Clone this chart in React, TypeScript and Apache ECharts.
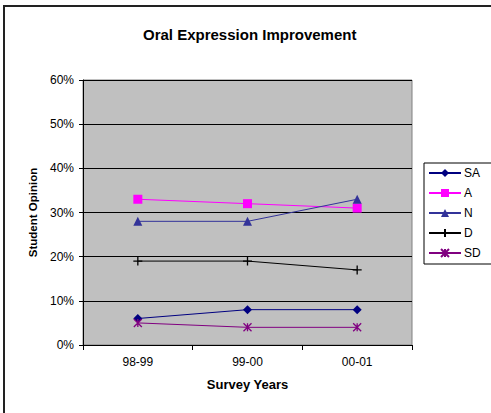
import React, { useEffect, useRef } from "react";
import * as echarts from "echarts";

const categories = ["98-99", "99-00", "00-01"];
const seriesNames = ["SA", "A", "N", "D", "SD"];
const saValues = [6, 8, 8];
const aValues = [33, 32, 31];
const nValues = [28, 28, 33];
const dValues = [19, 19, 17];
const sdValues = [5, 4, 4];
const yTicks = [0, 10, 20, 30, 40, 50, 60];

const FONT = "'Liberation Sans', Arial, sans-serif";

export default function App() {
  const ref = useRef<HTMLDivElement>(null);
  useEffect(() => {
    document.body.style.margin = "0";
    const chart = echarts.init(ref.current!, null, { renderer: "svg" });
    const plusPath = "path://M0,5L10,5M5,0L5,10";
    const starPath = "path://M0,0L10,10M10,0L0,10M5,0L5,10";
    const mk = (name: string, data: number[], color: string, symbol: string, size: number, stroke = false) => ({
      name,
      type: "line",
      data,
      symbol,
      symbolSize: size,
      lineStyle: { color, width: 1 },
      itemStyle: stroke
        ? { color, borderColor: color, borderWidth: 1.3 }
        : { color, borderWidth: 0 },
      emphasis: { disabled: true },
    });
    chart.setOption({
      animation: false,
      textStyle: { fontFamily: FONT },
      title: {
        text: "Oral Expression Improvement",
        left: 143,
        top: 27,
        padding: 0,
        textStyle: { fontFamily: FONT, fontSize: 15, fontWeight: "bold", color: "#000" },
      },
      graphic: [
        {
          type: "rect",
          shape: { x: 4, y: 6, width: 520, height: 520 },
          style: { fill: "none", stroke: "#222", lineWidth: 2 },
          silent: true,
          z: 100,
        },
      ],
      legend: {
        data: seriesNames,
        orient: "vertical",
        left: 424,
        top: 163,
        width: 64,
        padding: [4, 14, 5, 4],
        backgroundColor: "#fff",
        borderColor: "#000",
        borderWidth: 1,
        borderRadius: 0,
        itemWidth: 32,
        itemHeight: 10,
        itemGap: 8,
        textStyle: { fontFamily: FONT, fontSize: 12, color: "#000", padding: [0, 0, 0, -2] },
      },
      grid: {
        left: 83,
        right: 79,
        top: 80,
        bottom: 68,
        show: true,
        backgroundColor: "#C0C0C0",
        borderColor: "#808080",
        borderWidth: 1,
        containLabel: false,
      },
      xAxis: {
        type: "category",
        data: categories,
        boundaryGap: true,
        name: "Survey Years",
        nameLocation: "middle",
        nameGap: 33,
        nameTextStyle: { fontFamily: FONT, fontSize: 13, fontWeight: "bold", color: "#000" },
        axisLine: { lineStyle: { color: "#000", width: 1 } },
        axisTick: { show: true, length: 5, lineStyle: { color: "#000" } },
        axisLabel: { color: "#000", fontSize: 12, margin: 11, fontFamily: FONT },
        splitLine: { show: false },
      },
      yAxis: {
        type: "value",
        min: yTicks[0],
        max: yTicks[yTicks.length - 1],
        interval: 10,
        name: "Student Opinion",
        nameLocation: "middle",
        nameGap: 44,
        nameTextStyle: { fontFamily: FONT, fontSize: 11.5, fontWeight: "bold", color: "#000" },
        axisLine: { show: true, lineStyle: { color: "#000", width: 1 } },
        axisTick: { show: true, length: 4, lineStyle: { color: "#000" } },
        axisLabel: { color: "#000", fontSize: 12, margin: 9, fontFamily: FONT, formatter: "{value}%" },
        splitLine: { show: true, lineStyle: { color: "#000", width: 1 } },
      },
      series: [
        mk("SA", saValues, "#000080", "diamond", 9),
        mk("A", aValues, "#FF00FF", "rect", 9),
        mk("N", nValues, "#333399", "triangle", 9),
        mk("D", dValues, "#000000", plusPath, 9, true),
        mk("SD", sdValues, "#800080", starPath, 8, true),
      ],
    });
    return () => chart.dispose();
  }, []);
  return <div ref={ref} style={{ width: 491, height: 413, position: "absolute", left: 0, top: 0 }} />;
}
